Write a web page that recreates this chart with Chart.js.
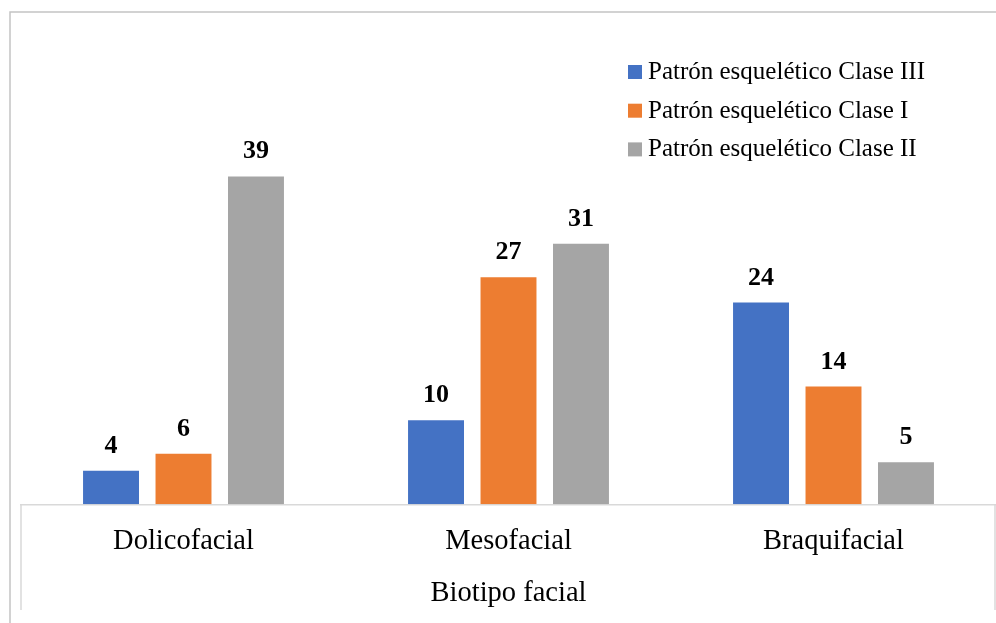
<!DOCTYPE html>
<html>
<head>
<meta charset="utf-8">
<script src="https://cdn.jsdelivr.net/npm/chart.js@4/dist/chart.umd.min.js"></script>
<style>
  html, body { margin: 0; padding: 0; background: #fff; }
  #wrap { position: relative; width: 996px; height: 623px; }
</style>
</head>
<body>
<div id="wrap"><canvas id="chart" width="996" height="623"></canvas></div>
<script>
const categories = ['Dolicofacial', 'Mesofacial', 'Braquifacial'];
const seriesNames = ['Patrón esquelético Clase III', 'Patrón esquelético Clase I', 'Patrón esquelético Clase II'];
const claseIII = [4, 10, 24];
const claseI = [6, 27, 14];
const claseII = [39, 31, 5];
const seriesColors = ['#4472C4', '#ED7D31', '#A5A5A5'];

const FONT = '"Liberation Serif", "Times New Roman", serif';

// frame, axis box, value labels and the legend, drawn after the bars
const decorations = {
  id: 'decorations',
  afterDraw(chart) {
    const ctx = chart.ctx;
    const area = chart.chartArea;
    ctx.save();

    // outer frame (top + left only, as in the reference crop)
    ctx.strokeStyle = '#c4c4c4';
    ctx.lineWidth = 1.5;
    ctx.beginPath();
    ctx.moveTo(10, chart.height);
    ctx.lineTo(10, 12);
    ctx.lineTo(chart.width, 12);
    ctx.stroke();

    // box below the category axis
    ctx.strokeStyle = '#d9d9d9';
    ctx.lineWidth = 1.5;
    ctx.beginPath();
    ctx.moveTo(area.left, area.bottom);
    ctx.lineTo(area.left, 610);
    ctx.moveTo(area.right - 1, area.bottom);
    ctx.lineTo(area.right - 1, 610);
    ctx.stroke();

    // value labels above bars
    ctx.fillStyle = '#000';
    ctx.font = 'bold 26px ' + FONT;
    ctx.textAlign = 'center';
    ctx.textBaseline = 'alphabetic';
    chart.data.datasets.forEach((ds, i) => {
      chart.getDatasetMeta(i).data.forEach((bar, j) => {
        ctx.fillText(String(ds.data[j]), bar.x, bar.y - 18);
      });
    });

    // legend inside the plot, top right
    ctx.font = '25px ' + FONT;
    ctx.textAlign = 'left';
    ctx.textBaseline = 'alphabetic';
    chart.data.datasets.forEach((ds, i) => {
      const cy = 72 + i * 38.7;
      ctx.fillStyle = ds.backgroundColor;
      ctx.fillRect(628, cy - 7, 14, 14);
      ctx.fillStyle = '#000';
      ctx.fillText(ds.label, 648, cy + 7);
    });

    ctx.restore();
  }
};

new Chart(document.getElementById('chart'), {
  type: 'bar',
  data: {
    labels: categories,
    datasets: [
      { label: seriesNames[0], data: claseIII, backgroundColor: seriesColors[0] },
      { label: seriesNames[1], data: claseI, backgroundColor: seriesColors[1] },
      { label: seriesNames[2], data: claseII, backgroundColor: seriesColors[2] }
    ]
  },
  options: {
    responsive: false,
    animation: false,
    layout: { padding: { left: 21, right: 0, top: 84, bottom: 0 } },
    categoryPercentage: 0.669,
    barPercentage: 0.772,
    plugins: {
      legend: { display: false },
      tooltip: { enabled: false }
    },
    scales: {
      y: { display: false, min: 0, max: 50 },
      x: {
        grid: { display: false },
        border: { display: true, color: '#d9d9d9', width: 1.5 },
        ticks: { color: '#000', padding: 15, font: { family: FONT, size: 28.5, lineHeight: 1.0 } },
        title: {
          display: true,
          text: 'Biotipo facial',
          color: '#000',
          font: { family: FONT, size: 28.5 },
          padding: { top: 6, bottom: 12 }
        }
      }
    }
  },
  plugins: [decorations]
});
</script>
</body>
</html>
